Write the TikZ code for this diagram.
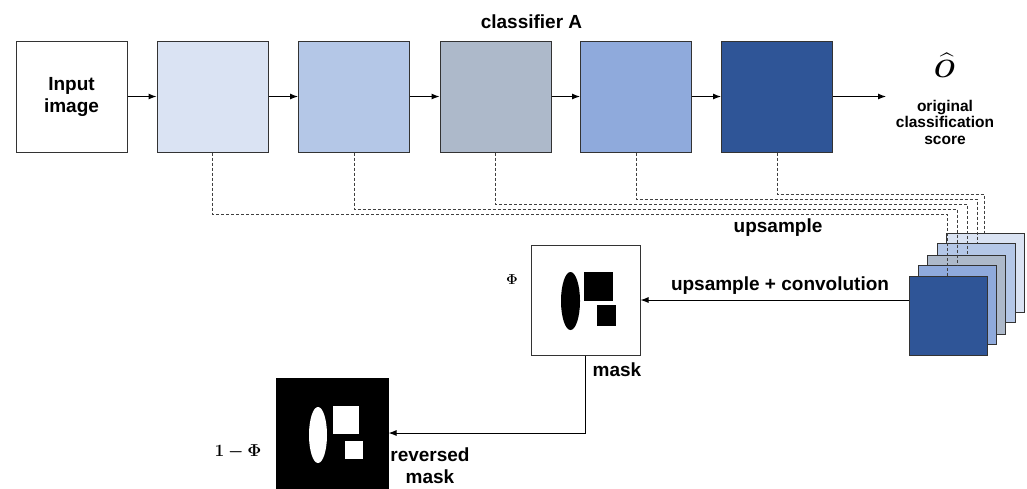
\documentclass[tikz,border=0pt]{standalone}
\usepackage{fontspec}
\usepackage{amsmath}
\usepackage{amssymb}
\usepackage{bm}
\setmainfont{Liberation Sans}
\usetikzlibrary{arrows, arrows.meta, positioning}
\DeclareMathAlphabet{\mathbit}{OML}{cmm}{b}{it}
\definecolor{layerA}{HTML}{DAE3F3}
\definecolor{layerB}{HTML}{B4C7E7}
\definecolor{layerC}{HTML}{ADB9CA}
\definecolor{layerD}{HTML}{8FAADC}
\definecolor{layerE}{HTML}{2F5597}
\tikzset{
  block/.style={draw=black!80, line width=1pt, minimum width=111pt, minimum height=111pt, inner sep=0pt},
  stackbox/.style={draw=black!80, line width=1pt, minimum width=78pt, minimum height=79pt, inner sep=0pt},
  txt/.style={font=\bfseries\fontsize{19}{22}\selectfont, align=center, inner sep=0pt},
  dashline/.style={draw=black!75, line width=1pt, dash pattern=on 3pt off 2pt}
}

\begin{document}
\begin{tikzpicture}[x=1pt, y=-1pt, >={Latex[length=8pt,width=6pt]}, line width=1pt]
\useasboundingbox (0,0) rectangle (1027,488);

% classifier A
\node[block, fill=white, txt] (in) at (71.5,96.5) {Input\\image};
\node[block, fill=layerA] (b1) at (212.5,96.5) {};
\node[block, fill=layerB] (b2) at (354,96.5) {};
\node[block, fill=layerC] (b3) at (495.5,96.5) {};
\node[block, fill=layerD] (b4) at (636,96.5) {};
\node[block, fill=layerE] (b5) at (777,96.5) {};
\coordinate (out) at (886,96.5);

\draw[->] (in) -- (b1);
\draw[->] (b1) -- (b2);
\draw[->] (b2) -- (b3);
\draw[->] (b3) -- (b4);
\draw[->] (b4) -- (b5);
\draw[->] (b5) -- (out);

\node[txt] (clsA) at (531.5,22) {classifier A};
\node[inner sep=0pt, font=\fontsize{24}{26}\selectfont] (ohat) at (945,65) {$\widehat{\mathbit{O}}$};
\node[txt, font=\bfseries\fontsize{15.5}{16.5}\selectfont] (score) at (945,122) {original\\classification\\score};

% upsampled stack
\node[stackbox, fill=layerA] (l1) at (985.5,272.5) {};
\node[stackbox, fill=layerB] (l2) at (976,282.5) {};
\node[stackbox, fill=layerC] (l3) at (966.5,294.5) {};
\node[stackbox, fill=layerD] (l4) at (957,305) {};
\node[stackbox, fill=layerE] (l5) at (948,315.5) {};

\foreach \b/\x/\y/\t in {b1/947/214/276, b2/957/209/266, b3/967/204/255, b4/977/199/243, b5/984/194/233}
  \draw[dashline] (\b.south) |- (\x,\y) -- (\x,\t);

\node[txt] (ups) at (778,228) {upsample};

% mask
\node[draw=black!80, line width=1pt, fill=white, minimum width=109pt, minimum height=110pt] (mask) at (585.5,300) {};
\begin{scope}[shift={(mask.center)}]
  \fill[black] (-15,1) ellipse [x radius=9.5, y radius=29];
  \fill[black] (-1.5,-28) rectangle (27.5,1);
  \fill[black] (11.5,5) rectangle (30.5,26);
\end{scope}
\node[inner sep=0pt, font=\fontsize{15}{17}\selectfont] (phi) at (512,280) {$\bm{\Phi}$};
\node[txt] (masklbl) at (617,370) {mask};

\draw[->] (l5.west |- mask.east) -- (mask.east);
\node[txt] (conv) at (780,286) {upsample + convolution};

% reversed mask
\node[draw=black, fill=black, minimum width=112pt, minimum height=110pt] (rmask) at (332,433) {};
\begin{scope}[shift={(rmask.center)}]
  \fill[white] (-14,2) ellipse [x radius=9, y radius=28];
  \fill[white] (1,-27) rectangle (27,1);
  \fill[white] (13,8) rectangle (31,26);
\end{scope}
\node[inner sep=0pt, font=\fontsize{17}{19}\selectfont] (onephi) at (238,452) {$\bm{1-\Phi}$};
\node[txt] (rlbl) at (430,466) {reversed\\mask};

\draw[->] (mask.south) |- (rmask.east);

\end{tikzpicture}
\end{document}
